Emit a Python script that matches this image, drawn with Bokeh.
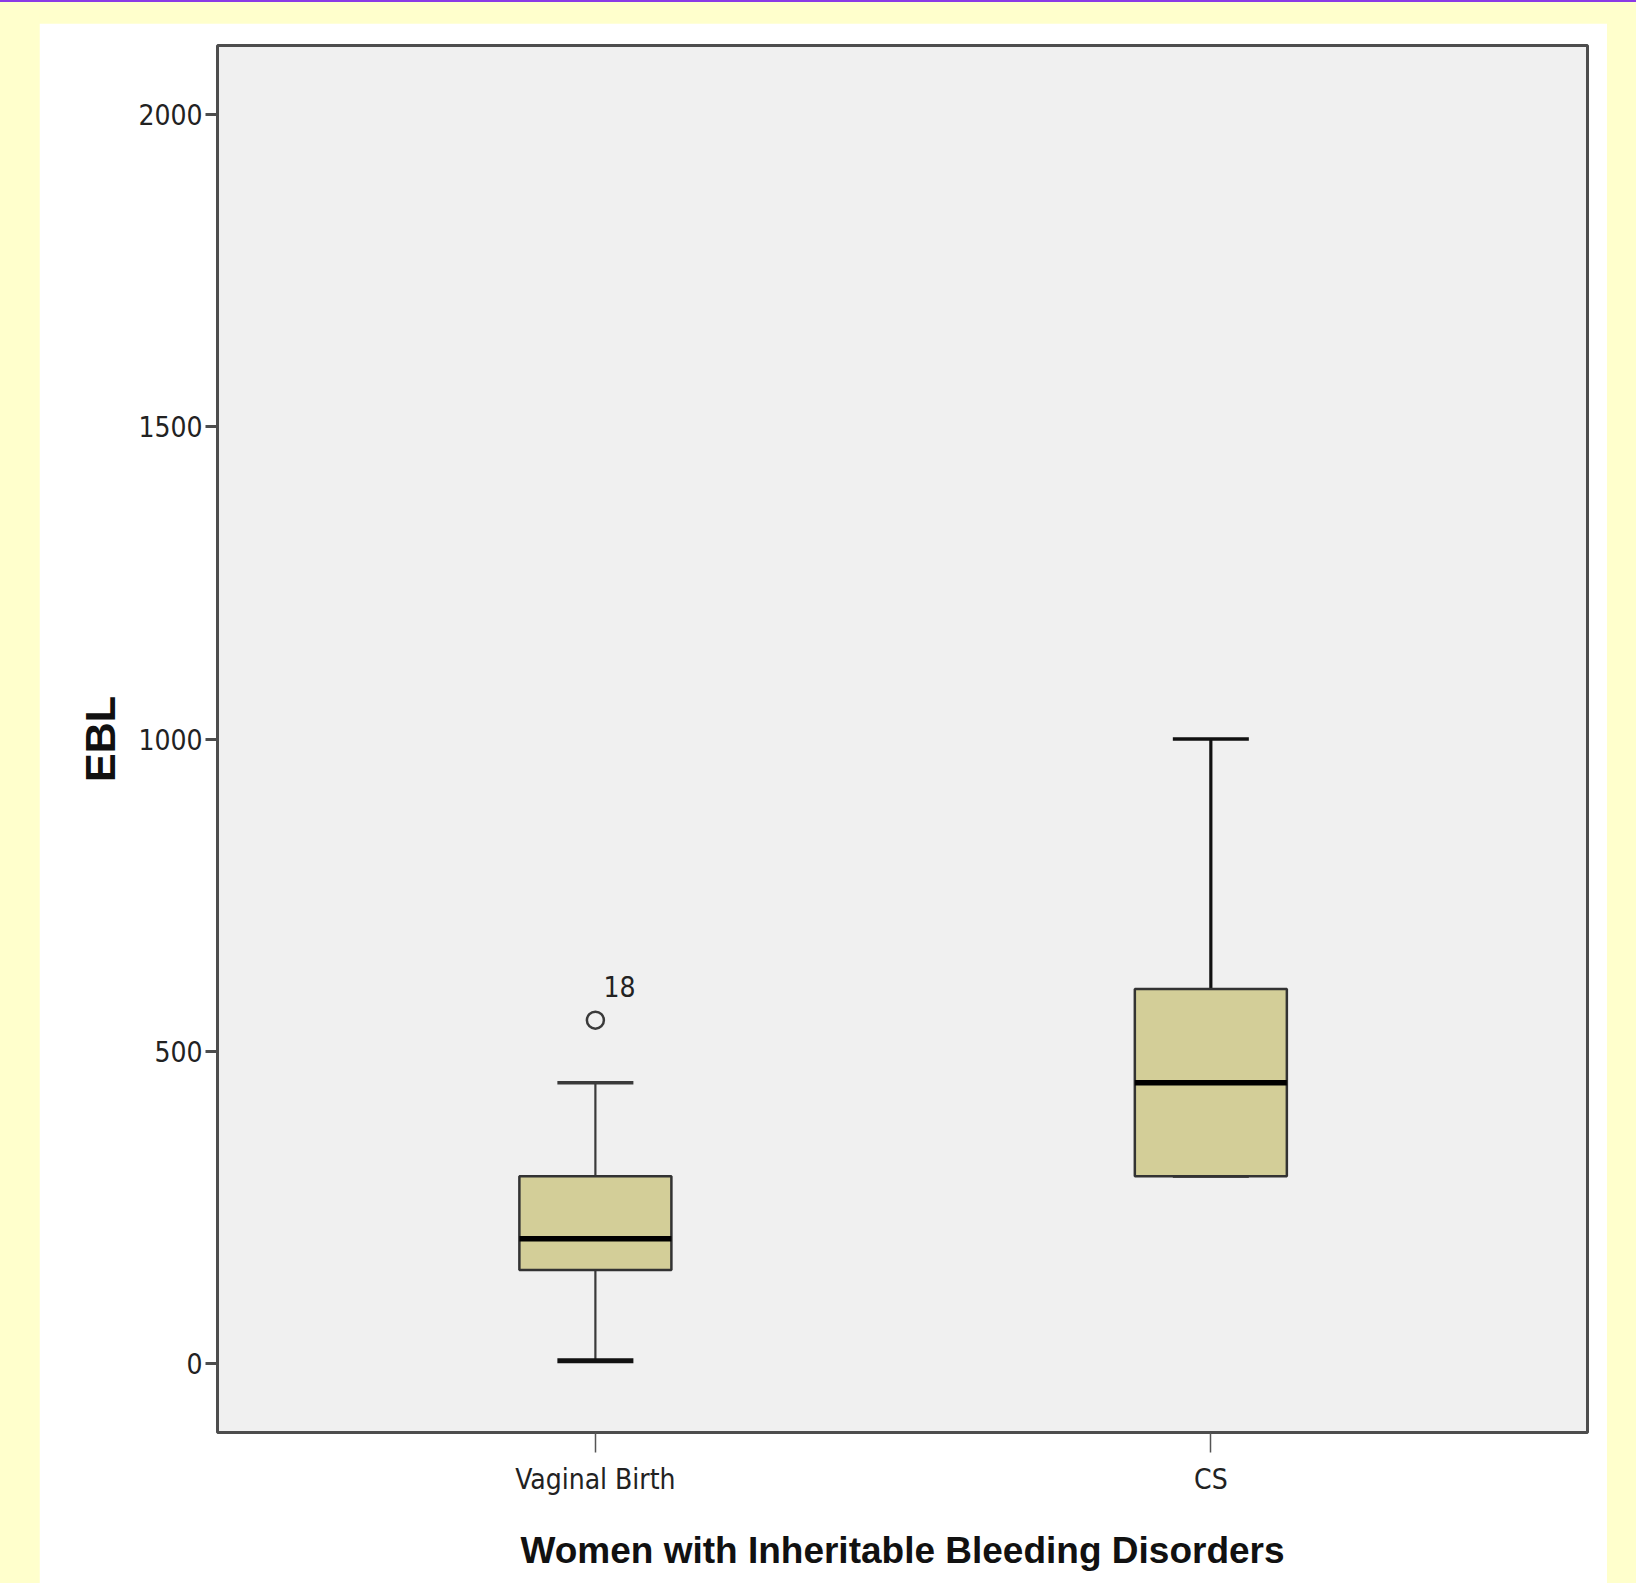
import numpy as np
from bokeh.plotting import figure
from bokeh.models import Range1d, FixedTicker, ColumnDataSource
from bokeh.layouts import column
from bokeh.embed import file_html
from bokeh.resources import INLINE
from bokeh.core.properties import value

# ---- data ----
categories = ["Vaginal Birth", "CS"]
q1 = [150, 300]
medians = [200, 450]
q3 = [300, 600]
whisker_low = [5, 300]
whisker_high = [450, 1000]
outlier_group = ["Vaginal Birth"]
outlier_values = [550]
outlier_ids = ["18"]
y_ticks = [0, 500, 1000, 1500, 2000]
x_title = "Women with Inheritable Bleeding Disorders"
y_title = "EBL"

# ---- styles ----
NARROW = "DejaVu Sans Condensed"
BOX_FILL = "#D3CE98"
FRAME = "#4d4d4d"
BOX_W = 0.247
CAP_W = BOX_W / 2

xs = np.arange(1, len(categories) + 1, dtype=float)
src = ColumnDataSource(dict(
    x=xs, q1=q1, med=medians, q3=q3, lo=whisker_low, hi=whisker_high,
    bx0=xs - BOX_W / 2, bx1=xs + BOX_W / 2,
    cx0=xs - CAP_W / 2, cx1=xs + CAP_W / 2,
    wcol=["#3a3a3a", "#111111"], ww=[2.2, 3.2],
    lcw=[5, 3], lcc=["#111111", "#222222"],
))

p = figure(width=1568, height=1560, output_backend="svg", toolbar_location=None,
           x_range=Range1d(0.386, 2.612), y_range=Range1d(-110, 2110),
           background_fill_color="#F0F0F0", border_fill_color="white",
           outline_line_color=FRAME, outline_line_width=3,
           min_border_left=178, min_border_right=20,
           min_border_top=22, min_border_bottom=151)
p.margin = (21, 29, 0, 39)
p.grid.visible = False

# whiskers
p.segment(x0="x", y0="q3", x1="x", y1="hi", source=src, line_color="wcol", line_width="ww")
p.segment(x0="x", y0="lo", x1="x", y1="q1", source=src, line_color="wcol", line_width="ww")
# caps
p.segment(x0="cx0", y0="hi", x1="cx1", y1="hi", source=src, line_color="wcol", line_width=3.5)
p.segment(x0="cx0", y0="lo", x1="cx1", y1="lo", source=src, line_color="lcc", line_width="lcw")
# boxes
p.vbar(x="x", width=BOX_W, bottom="q1", top="q3", source=src,
       fill_color=BOX_FILL, line_color="#333333", line_width=2.5)
# medians
p.segment(x0="bx0", y0="med", x1="bx1", y1="med", source=src, line_color="black", line_width=5.5)

# outliers
ox = [xs[categories.index(g)] for g in outlier_group]
osrc = ColumnDataSource(dict(x=ox, y=outlier_values, t=outlier_ids))
p.scatter(x="x", y="y", source=osrc, size=17, marker="circle", fill_color=None,
          line_color="#3a3a3a", line_width=2.5)
p.text(x="x", y="y", text="t", source=osrc, x_offset=8, y_offset=-34,
       text_font=value(NARROW), text_font_size="28px", text_color="#222222",
       text_baseline="middle", text_align="left")

# axes
p.xaxis.ticker = FixedTicker(ticks=list(xs))
p.xaxis.major_label_overrides = {float(x): c for x, c in zip(xs, categories)}
p.yaxis.ticker = FixedTicker(ticks=y_ticks)
for ax in (p.xaxis[0], p.yaxis[0]):
    ax.axis_line_color = None
    ax.minor_tick_line_color = None
    ax.major_tick_in = 0
    ax.major_label_text_font = NARROW
    ax.major_label_text_font_size = "28px"
    ax.major_label_text_color = "#222222"
    ax.axis_label_text_font_style = "bold"
    ax.axis_label_text_color = "#111111"

p.xaxis.major_tick_out = 20
p.xaxis.major_tick_line_color = "#555555"
p.xaxis.major_tick_line_width = 1.5
p.xaxis.major_label_standoff = 10
p.xaxis.axis_label = x_title
p.xaxis.axis_label_text_font = "Liberation Sans"
p.xaxis.axis_label_text_font_size = "37px"
p.xaxis.axis_label_standoff = 31

p.yaxis.major_tick_out = 12
p.yaxis.major_tick_line_color = FRAME
p.yaxis.major_tick_line_width = 3
p.yaxis.major_label_standoff = 3
p.yaxis.axis_label = y_title
p.yaxis.axis_label_text_font = "Liberation Sans"
p.yaxis.axis_label_text_font_size = "43px"
p.yaxis.axis_label_standoff = 11

root = column(p, styles={"background-color": "#FFFFCC", "border-top": "2px solid #8a3ae6"})

open("out.html", "w").write(file_html(root, INLINE))
